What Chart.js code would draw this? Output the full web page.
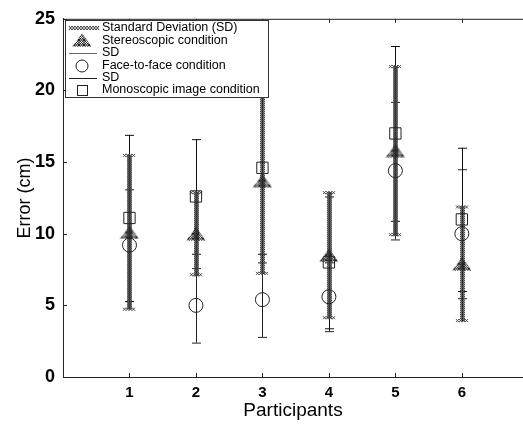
<!DOCTYPE html>
<html>
<head>
<meta charset="utf-8">
<script src="https://cdn.jsdelivr.net/npm/chart.js@4.4.1/dist/chart.umd.min.js"></script>
<style>
  html, body { margin: 0; padding: 0; background: #fff; }
  #wrap { width: 523px; height: 427px; }
</style>
</head>
<body>
<div id="wrap"><canvas id="chart" width="523" height="427"></canvas></div>
<script>
// values (error in cm)
const participants = [1, 2, 3, 4, 5, 6];
const stereo   = [10.1, 10.0, 13.7, 8.5, 15.8, 7.9];
const stereoSD = [5.4, 2.9, 6.5, 4.4, 5.9, 4.0];
const face     = [9.2, 5.0, 5.4, 5.6, 14.4, 10.0];
const faceSD   = [3.9, 2.6, 2.6, 2.4, 4.8, 4.5];
const mono     = [11.1, 12.6, 14.6, 8.0, 17.0, 11.0];
const monoSD   = [5.8, 4.0, 6.0, 4.6, 6.1, 5.0];
const yTicks = [0, 5, 10, 15, 20, 25];

const FONT = '"Liberation Sans", Arial, sans-serif';

// hatched triangle marker
function makeTriangle() {
  const c = document.createElement('canvas');
  c.width = 20; c.height = 14;
  const g = c.getContext('2d');
  g.beginPath();
  g.moveTo(10, 0.5); g.lineTo(19.5, 13.5); g.lineTo(0.5, 13.5); g.closePath();
  g.save();
  g.clip();
  g.strokeStyle = '#222';
  g.lineWidth = 1;
  for (let k = -20; k < 40; k += 2.5) {
    g.beginPath(); g.moveTo(k, 0); g.lineTo(k + 14, 14); g.stroke();
    g.beginPath(); g.moveTo(k + 14, 0); g.lineTo(k, 14); g.stroke();
  }
  g.restore();
  g.strokeStyle = '#333';
  g.stroke();
  return c;
}
const triangleImg = makeTriangle();

// braided "xxxx" line used for the stereoscopic SD
function hatchV(ctx, x, y1, y2) {
  ctx.save();
  ctx.strokeStyle = '#111';
  ctx.lineWidth = 1.5;
  ctx.beginPath(); ctx.moveTo(x + 0.5, y1); ctx.lineTo(x + 0.5, y2); ctx.stroke();
  ctx.lineWidth = 1;
  ctx.strokeStyle = '#444';
  for (let y = y1; y < y2 - 1; y += 2) {
    ctx.beginPath();
    ctx.moveTo(x - 2, y); ctx.lineTo(x + 3, y + 2);
    ctx.moveTo(x + 3, y); ctx.lineTo(x - 2, y + 2);
    ctx.stroke();
  }
  for (const yy of [y1 - 1, y2 - 2]) {
    for (let xx = x - 6; xx < x + 6; xx += 3) {
      ctx.beginPath();
      ctx.moveTo(xx, yy); ctx.lineTo(xx + 3, yy + 3);
      ctx.moveTo(xx + 3, yy); ctx.lineTo(xx, yy + 3);
      ctx.stroke();
    }
  }
  ctx.restore();
}
function hatchH(ctx, x1, x2, y) {
  ctx.save();
  ctx.strokeStyle = '#333';
  ctx.lineWidth = 1;
  for (let x = x1; x < x2; x += 3) {
    ctx.beginPath();
    ctx.moveTo(x, y - 2); ctx.lineTo(x + 3, y + 2);
    ctx.moveTo(x + 3, y - 2); ctx.lineTo(x, y + 2);
    ctx.stroke();
  }
  ctx.restore();
}
function thinBar(ctx, x, y1, y2, color) {
  ctx.save();
  ctx.strokeStyle = color;
  ctx.lineWidth = 1;
  ctx.beginPath();
  ctx.moveTo(x + 0.5, y1); ctx.lineTo(x + 0.5, y2);
  ctx.moveTo(x - 4, y1 + 0.5); ctx.lineTo(x + 5, y1 + 0.5);
  ctx.moveTo(x - 4, y2 + 0.5); ctx.lineTo(x + 5, y2 + 0.5);
  ctx.stroke();
  ctx.restore();
}

const errorBars = {
  id: 'errorBars',
  beforeDatasetsDraw(chart) {
    const { ctx, scales: { x, y } } = chart;
    participants.forEach((p, i) => {
      const px = Math.round(x.getPixelForValue(p));
      thinBar(ctx, px, y.getPixelForValue(face[i] + faceSD[i]), y.getPixelForValue(face[i] - faceSD[i]), '#222');
      thinBar(ctx, px, y.getPixelForValue(mono[i] + monoSD[i]), y.getPixelForValue(mono[i] - monoSD[i]), '#111');
      hatchV(ctx, px, y.getPixelForValue(stereo[i] + stereoSD[i]), y.getPixelForValue(stereo[i] - stereoSD[i]));
    });
  }
};

// inward tick marks + top frame line
const frame = {
  id: 'frame',
  afterDraw(chart) {
    const { ctx, chartArea: a, scales: { x, y } } = chart;
    ctx.save();
    ctx.strokeStyle = '#222';
    ctx.lineWidth = 1;
    ctx.beginPath();
    ctx.moveTo(a.left, a.top + 0.5); ctx.lineTo(a.right, a.top + 0.5);
    participants.forEach(p => {
      const px = Math.round(x.getPixelForValue(p)) + 0.5;
      ctx.moveTo(px, a.bottom); ctx.lineTo(px, a.bottom - 4);
      ctx.moveTo(px, a.top); ctx.lineTo(px, a.top + 4);
    });
    yTicks.forEach(v => {
      const py = Math.round(y.getPixelForValue(v)) + 0.5;
      ctx.moveTo(a.left, py); ctx.lineTo(a.left + 4, py);
    });
    ctx.stroke();
    ctx.restore();
  }
};

const legendBox = {
  id: 'legendBox',
  afterDraw(chart) {
    const ctx = chart.ctx;
    const bx = 65.5, by = 20.5, bw = 203, bh = 77;
    ctx.save();
    ctx.fillStyle = '#fff';
    ctx.fillRect(bx, by, bw, bh);
    ctx.strokeStyle = '#333';
    ctx.lineWidth = 1;
    ctx.strokeRect(bx, by, bw, bh);

    const rows = [28, 41, 53, 66, 78, 90];
    const labels = ['Standard Deviation (SD)', 'Stereoscopic condition', 'SD',
                    'Face-to-face condition', 'SD', 'Monoscopic image condition'];
    hatchH(ctx, 69, 98, rows[0]);
    ctx.drawImage(triangleImg, 72, rows[1] - 8);
    ctx.strokeStyle = '#666';
    ctx.beginPath(); ctx.moveTo(69, rows[2] + 0.5); ctx.lineTo(97, rows[2] + 0.5); ctx.stroke();
    ctx.strokeStyle = '#222';
    ctx.beginPath(); ctx.arc(82, rows[3], 6, 0, Math.PI * 2); ctx.stroke();
    ctx.beginPath(); ctx.moveTo(69, rows[4] + 0.5); ctx.lineTo(97, rows[4] + 0.5); ctx.stroke();
    ctx.strokeRect(77.5, rows[5] - 4.5, 10, 10);

    ctx.fillStyle = '#000';
    ctx.font = '12.5px ' + FONT;
    ctx.textBaseline = 'middle';
    labels.forEach((t, i) => ctx.fillText(t, 102, rows[i]));
    ctx.restore();
  }
};

const toPoints = arr => participants.map((p, i) => ({ x: p, y: arr[i] }));

new Chart(document.getElementById('chart').getContext('2d'), {
  type: 'scatter',
  data: {
    datasets: [
      { label: 'Stereoscopic condition', data: toPoints(stereo), pointStyle: triangleImg },
      { label: 'Face-to-face condition', data: toPoints(face), pointStyle: 'circle', pointRadius: 7,
        backgroundColor: 'rgba(0,0,0,0)', borderColor: '#222', borderWidth: 1 },
      { label: 'Monoscopic image condition', data: toPoints(mono), pointStyle: 'rect', pointRadius: 8,
        backgroundColor: 'rgba(0,0,0,0)', borderColor: '#222', borderWidth: 1 }
    ]
  },
  options: {
    responsive: false,
    animation: false,
    layout: { autoPadding: false, padding: { top: 16, right: 0, left: 0, bottom: 0 } },
    plugins: { legend: { display: false }, tooltip: { enabled: false } },
    scales: {
      x: {
        type: 'linear',
        min: 0,
        max: 6.92,
        afterBuildTicks: axis => { axis.ticks = participants.map(v => ({ value: v })); },
        afterFit: axis => { axis.height = 50; axis.paddingLeft = 0; axis.paddingRight = 0; },
        grid: { display: false, drawTicks: false },
        border: { display: true, color: '#222', width: 1 },
        ticks: { color: '#000', padding: 7, font: { family: FONT, size: 15, weight: 'bold' } },
        title: { display: true, text: 'Participants', color: '#000',
                 font: { family: FONT, size: 19 }, padding: { top: 0, bottom: 5 } }
      },
      y: {
        min: 0,
        max: 25,
        afterBuildTicks: axis => { axis.ticks = yTicks.map(v => ({ value: v })); },
        afterFit: axis => { axis.width = 63; },
        grid: { display: false, drawTicks: false },
        border: { display: true, color: '#222', width: 1 },
        ticks: { color: '#000', padding: 8, font: { family: FONT, size: 18, weight: 'bold' } },
        title: { display: true, text: 'Error (cm)', color: '#000',
                 font: { family: FONT, size: 18 }, padding: { top: 14, bottom: 0 } }
      }
    }
  },
  plugins: [errorBars, frame, legendBox]
});
</script>
</body>
</html>
